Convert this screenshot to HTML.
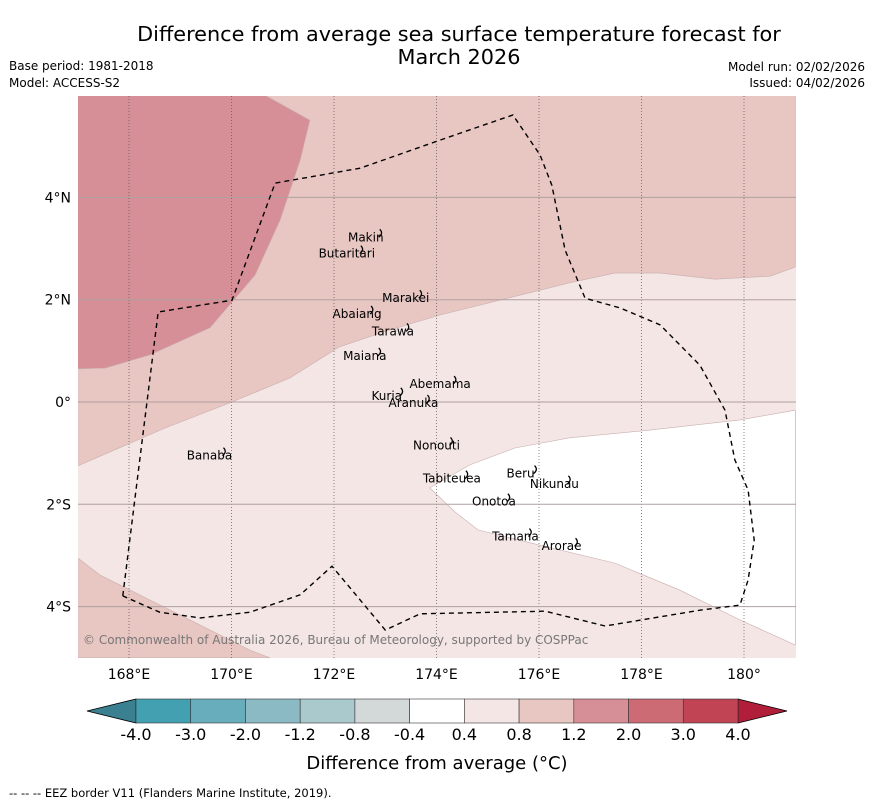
<!DOCTYPE html>
<html><head><meta charset="utf-8"><style>
body{margin:0;background:#fff;font-family:"Liberation Sans","DejaVu Sans",sans-serif;}
svg{display:block}
text{font-family:"DejaVu Sans","Liberation Sans",sans-serif;}
</style></head><body>
<svg id="chart" width="873" height="804" viewBox="0 0 873 804">
<text x="459" y="41" font-size="20.8" text-anchor="middle">Difference from average sea surface temperature forecast for</text>
<text x="459" y="64" font-size="20.8" text-anchor="middle">March 2026</text>
<text x="9" y="70" font-size="12">Base period: 1981-2018</text>
<text x="9" y="87" font-size="12">Model: ACCESS-S2</text>
<text x="865" y="71" font-size="12" text-anchor="end">Model run: 02/02/2026</text>
<text x="865" y="87" font-size="12" text-anchor="end">Issued: 04/02/2026</text>
<defs><clipPath id="mapclip"><rect x="78" y="96" width="718" height="562"/></clipPath></defs>
<g id="map" clip-path="url(#mapclip)"></g>
<g id="axes"></g>
<g id="cbar"></g>
<text x="437" y="769" font-size="18" text-anchor="middle">Difference from average (°C)</text>
<text x="9" y="797" font-size="11.5">--  --  -- EEZ border V11 (Flanders Marine Institute, 2019).</text>
</svg>
<script>
const lonTicks=[168,170,172,174,176,178,180];
const lonLabels=["168°E","170°E","172°E","174°E","176°E","178°E","180°"];
const latTicks=[4,2,0,-2,-4];
const latLabels=["4°N","2°N","0°","2°S","4°S"];
const cbLevels=["-4.0","-3.0","-2.0","-1.2","-0.8","-0.4","0.4","0.8","1.2","2.0","3.0","4.0"];
const cbColors=["#43a0b0","#68adbb","#8bbac5","#a9c9cc","#d3d8d8","#ffffff","#f4e6e5","#e8c6c2","#d68f96","#cc6b74","#c04453"];
// contour regions (lon, lat)
const band08=[[167,6],[181,6],[181,2.64],[180.51,2.46],[179.43,2.40],[178.36,2.52],[177.48,2.52],[176.6,2.33],[175.43,2.04],[174.07,1.70],[173.09,1.41],[172.11,1.08],[171.14,0.47],[170.01,0],[168.7,-0.51],[167,-1.25]];
const band12=[[167,6],[170.65,6],[171.53,5.51],[171.34,4.73],[170.95,3.56],[170.46,2.48],[169.58,1.45],[168.41,0.92],[167.53,0.66],[167,0.65]];
const bandWhite=[[181,-0.16],[179.92,-0.35],[178.17,-0.55],[176.6,-0.70],[175.53,-0.90],[174.65,-1.23],[173.87,-1.68],[174.36,-2.15],[174.81,-2.50],[176.02,-2.80],[177.48,-3.15],[178.75,-3.68],[179.92,-4.26],[181,-4.75]];
const bandLL=[[167,-3.05],[167.43,-3.38],[168.41,-3.87],[169.39,-4.36],[170.36,-4.85],[170.75,-5],[167,-5]];
const eez=[[167.88,-3.79],[168.57,1.76],[170.01,1.99],[170.85,4.28],[172.51,4.57],[174.07,5.12],[175.49,5.61],[176.02,4.83],[176.25,4.24],[176.51,2.97],[176.9,2.03],[177.58,1.84],[178.36,1.51],[179.14,0.72],[179.63,-0.16],[179.82,-1.13],[180.08,-1.72],[180.2,-2.7],[180.08,-3.48],[179.92,-3.97],[179.14,-4.07],[177.29,-4.38],[176.12,-4.09],[173.68,-4.14],[173.0,-4.46],[171.96,-3.21],[171.34,-3.77],[170.36,-4.11],[169.39,-4.22],[168.6,-4.11],[167.88,-3.79]];
const islandNames=["Makin","Butaritari","Marakei","Abaiang","Tarawa","Maiana","Abemama","Kuria","Aranuka","Nonouti","Tabiteuea","Beru","Nikunau","Onotoa","Tamana","Arorae","Banaba"];
const islandLon=[172.62,172.25,173.4,172.45,173.15,172.6,174.07,173.03,173.55,174.0,174.3,175.64,176.3,175.12,175.54,176.44,169.57];
const islandLat=[3.22,2.9,2.03,1.72,1.38,0.9,0.35,0.12,-0.02,-0.85,-1.5,-1.4,-1.6,-1.95,-2.63,-2.82,-1.05];
const NS="http://www.w3.org/2000/svg";
const x=lon=>129+(lon-168)*51.25;
const y=lat=>402-lat*51.15;
const svg=document.getElementById('chart');
function mk(tag,attrs,parent){const e=document.createElementNS(NS,tag);for(const k in attrs)e.setAttribute(k,attrs[k]);parent.appendChild(e);return e;}
const map=document.getElementById('map');
const pts=a=>a.map(p=>x(p[0]).toFixed(1)+","+y(p[1]).toFixed(1)).join(" ");
let bg=mk('rect',{x:78,y:96,width:718,height:562,fill:"#f4e6e5"},map);


[[band08,"#e8c6c2","band-0.8-1.2-north"],[band12,"#d68f96","band-1.2-2.0"],[bandWhite,"#ffffff","band-neutral"],[bandLL,"#e8c6c2","band-0.8-1.2-south"]].forEach(b=>{
 const p=mk('polygon',{points:pts(b[0]),fill:b[1],stroke:"#c9b0b0","stroke-width":0.6},map);
 
 
});
const ax=document.getElementById('axes');
lonTicks.forEach((t,i)=>{
 const l=mk('line',{x1:x(t),x2:x(t),y1:96,y2:658,stroke:"#555","stroke-width":0.7,"stroke-dasharray":"1,2"},map);
 
 
 const tx=mk('text',{x:x(t),y:679,"font-size":14,"text-anchor":"middle"},ax);tx.textContent=lonLabels[i];
 
 
});
latTicks.forEach((t,i)=>{
 const l=mk('line',{x1:78,x2:796,y1:y(t),y2:y(t),stroke:"#b0a0a0","stroke-width":1},map);
 
 
 const tx=mk('text',{x:71,y:y(t)+5,"font-size":14,"text-anchor":"end"},ax);tx.textContent=latLabels[i];
 
 
});
const ez=mk('polyline',{points:pts(eez),fill:"none",stroke:"#000","stroke-width":1.4,"stroke-dasharray":"5,4"},map);


islandNames.forEach((n,i)=>{
 const ix=x(islandLon[i]),iy=y(islandLat[i]);
 const s=mk('path',{d:`M${ix+14},${iy-8} q4,4 -1,8`,stroke:"#000","stroke-width":1.3,fill:"none"},map);
 
 
 const t=mk('text',{x:ix,y:iy+4,"font-size":12,"text-anchor":"middle"},map);t.textContent=n;
 
 
});
const cp=mk('text',{x:83,y:644,"font-size":12,fill:"#777"},map);cp.textContent="© Commonwealth of Australia 2026, Bureau of Meteorology, supported by COSPPac";


const fr=mk('rect',{x:78,y:96,width:718,height:562,fill:"none",stroke:"none"},ax);


// colorbar
const cb=document.getElementById('cbar');
const c0=136,c1=738,cy=699,ch=24,cw=(c1-c0)/cbColors.length;
const lt=mk('polygon',{points:`${c0},${cy} ${c0},${cy+ch} 87,${cy+ch/2}`,fill:"#3b8090",stroke:"#000","stroke-width":0.8},cb);


const rt=mk('polygon',{points:`${c1},${cy} ${c1},${cy+ch} 787,${cy+ch/2}`,fill:"#b01e3a",stroke:"#000","stroke-width":0.8},cb);


cbColors.forEach((c,i)=>{
 const r=mk('rect',{x:c0+i*cw,y:cy,width:cw,height:ch,fill:c,stroke:"#333","stroke-width":0.6},cb);
 
 
});
cbLevels.forEach((v,i)=>{
 const t=mk('text',{x:c0+i*cw,y:740,"font-size":16,"text-anchor":"middle"},cb);t.textContent=v;
 
 
});
</script>
</body></html>
